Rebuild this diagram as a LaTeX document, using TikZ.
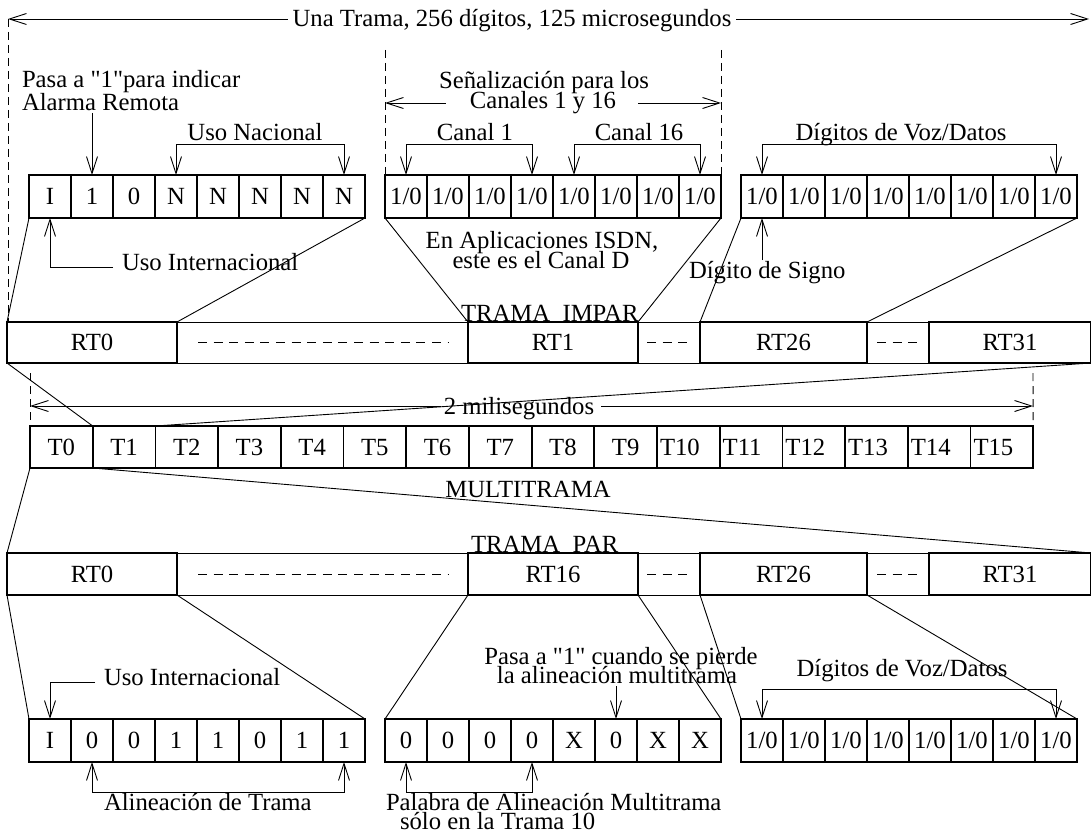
\documentclass[tikz,border=0pt]{standalone}
\usepackage{fontspec}
\setmainfont{Liberation Serif}
\newfontfamily\qfam{Liberation Serif}
\usetikzlibrary{arrows.meta,calc}
\newcommand{\straightq}{{\qfam\char34}}
\begin{document}
\begin{tikzpicture}[x=1pt,y=-1pt,
  font=\fontsize{24.7}{22}\selectfont,
  >={Straight Barb[length=17pt,width=11pt]},
  cell/.style={draw,line width=1.8pt,minimum width=42pt,minimum height=43pt,inner sep=0pt,outer sep=0pt,anchor=north west,text height=16.5pt,text depth=0pt},
  tcell/.style={draw,line width=1.8pt,minimum width=62.7pt,minimum height=42pt,inner sep=0pt,outer sep=0pt,anchor=north west,text height=16.5pt,text depth=0pt},
  rtbox/.style={draw,line width=2pt,minimum height=41pt,inner sep=0pt,outer sep=0pt,anchor=north west,text height=16.5pt,text depth=0pt},
  rowframe/.style={draw,line width=1pt,minimum height=41pt,inner sep=0pt,outer sep=0pt,anchor=north west},
  lbl/.style={inner sep=0pt,outer sep=0pt},
  conn/.style={line width=0.9pt},
  vdash/.style={line width=0.9pt,dash pattern=on 8pt off 5pt},
  gapdash/.style={line width=0.9pt,dash pattern=on 9pt off 6.6pt}]
\useasboundingbox (0,0) rectangle (1091,834);
\fill[white] (0,0) rectangle (1091,834);

% ---------- top cell groups ----------
\foreach \t [count=\i] in {I,1,0,N,N,N,N,N}
  \node[cell] (A\i) at ({29+42*(\i-1)},175) {\t};
\foreach \i in {1,...,8}
  \node[cell] (B\i) at ({385+42*(\i-1)},175) {1/0};
\foreach \i in {1,...,8}
  \node[cell] (C\i) at ({741+42*(\i-1)},175) {1/0};

% ---------- odd frame row ----------
\node[rowframe,minimum width=1084pt] (orow) at (7,322) {};
\node[rtbox,minimum width=170pt] (o0) at (7,322) {RT0};
\node[rtbox,minimum width=170pt] (o1) at (468,322) {RT1};
\node[rtbox,minimum width=167pt] (o26) at (700,322) {RT26};
\node[rtbox,minimum width=162pt] (o31) at (929,322) {RT31};
\draw[gapdash] ($(o0.east)+(21,0)$) -- ($(o1.west)+(-20,0)$);
\draw[gapdash] ($(o1.east)+(9,0)$) -- ($(o26.west)+(-13,0)$);
\draw[gapdash] ($(o26.east)+(10,0)$) -- ($(o31.west)+(-12,0)$);

% ---------- multiframe row ----------
\foreach \i in {0,...,15}{
  \ifnum\i<10
    \node[tcell] (T\i) at ({30+62.7*\i},426) {T\i};
  \else
    \node[tcell,inner xsep=3pt,text width=56.7pt,align=left] (T\i) at ({30+62.7*\i},426) {T\i};
  \fi
}

% ---------- even frame row ----------
\node[rowframe,minimum width=1084pt,minimum height=42pt] (erow) at (7,553) {};
\node[rtbox,minimum width=170pt,minimum height=42pt] (e0) at (7,553) {RT0};
\node[rtbox,minimum width=170pt,minimum height=42pt] (e16) at (468,553) {RT16};
\node[rtbox,minimum width=167pt,minimum height=42pt] (e26) at (700,553) {RT26};
\node[rtbox,minimum width=162pt,minimum height=42pt] (e31) at (929,553) {RT31};
\draw[gapdash] ($(e0.east)+(21,0)$) -- ($(e16.west)+(-20,0)$);
\draw[gapdash] ($(e16.east)+(9,0)$) -- ($(e26.west)+(-13,0)$);
\draw[gapdash] ($(e26.east)+(10,0)$) -- ($(e31.west)+(-12,0)$);

% ---------- bottom cell groups ----------
\foreach \t [count=\i] in {I,0,0,1,1,0,1,1}
  \node[cell] (D\i) at ({29+42*(\i-1)},719) {\t};
\foreach \t [count=\i] in {0,0,0,0,X,0,X,X}
  \node[cell] (E\i) at ({385+42*(\i-1)},719) {\t};
\foreach \i in {1,...,8}
  \node[cell] (F\i) at ({741+42*(\i-1)},719) {1/0};

% ---------- expansion connectors ----------
\draw[conn] (A1.south west) -- (o0.north west);
\draw[conn] (A8.south east) -- (o0.north east);
\draw[conn] (B1.south west) -- (o1.north west);
\draw[conn] (B8.south east) -- (o1.north east);
\draw[conn] (C1.south west) -- (o26.north west);
\draw[conn] (C8.south east) -- (o26.north east);
\draw[conn] (o0.south west) -- (T1.north west);
\draw[conn] (o31.south east) -- (T1.north east);
\draw[conn] (T0.south west) -- (e0.north west);
\draw[conn] (T0.south east) -- (e31.north east);
\draw[conn] (e0.south west) -- (D1.north west);
\draw[conn] (e0.south east) -- (D8.north east);
\draw[conn] (e16.south west) -- (E1.north west);
\draw[conn] (e16.south east) -- (E8.north east);
\draw[conn] (e26.south west) -- (F1.north west);
\draw[conn] (e26.south east) -- (F8.north east);

% ---------- title arrow ----------
\node[lbl,anchor=base] (title) at (512,27) {Una Trama, 256 dígitos, 125 microsegundos};
\coordinate (tL) at (8,19);
\coordinate (tR) at (1089,19);
\coordinate (tLs) at ($(title.west |- tL)+(-5,0)$);
\coordinate (tRs) at ($(title.east |- tR)+(5,0)$);
\draw[conn,->] (tLs) -- (tL);
\draw[conn,->] (tRs) -- (tR);
\draw[vdash] (tL) -- (tL |- o0.north);

% ---------- top labels ----------
\node[lbl,anchor=base west] (pasa1) at (22,88) {Pasa a \straightq1\straightq para indicar};
\node[lbl,anchor=base west] (pasa2) at (22,111) {Alarma Remota};
\coordinate (pa) at ($(A2.north |- pasa2.base)+(0,2)$);
\draw[conn,->] (pa) -- (A2.north);

\coordinate (brY) at (0,144);
\node[lbl,anchor=base] (nac) at (255,141) {Uso Nacional};
\draw[conn,<->] (A4.north) -- (A4.north |- brY) -- (A8.north |- brY) -- (A8.north);

\node[lbl,anchor=base] (sen1) at (544,89) {Señalización para los};
\node[lbl,anchor=base] (sen2) at (543,109) {Canales 1 y 16};
\coordinate (sL) at (385,103);
\coordinate (sR) at (721,103);
\coordinate (sLt) at (385,50);
\coordinate (sRt) at (721,50);
\draw[vdash] (sLt) -- (B1.north west);
\draw[vdash] (sRt) -- (B8.north east);
\coordinate (sLs) at ($(sen2.west |- sL)+(-24,0)$);
\coordinate (sRs) at ($(sen2.east |- sR)+(22,0)$);
\draw[conn,->] (sLs) -- (sL);
\draw[conn,->] (sRs) -- (sR);

\node[lbl,anchor=base] (can1) at (475,141) {Canal 1};
\draw[conn,<->] (B1.north) -- (B1.north |- brY) -- (B4.north |- brY) -- (B4.north);
\node[lbl,anchor=base] (can16) at (639,141) {Canal 16};
\draw[conn,<->] (B5.north) -- (B5.north |- brY) -- (B8.north |- brY) -- (B8.north);
\node[lbl,anchor=base] (voz1) at (901,141) {Dígitos de Voz/Datos};
\draw[conn,<->] (C1.north) -- (C1.north |- brY) -- (C8.north |- brY) -- (C8.north);

\node[lbl,anchor=base west] (ui1) at (122,270) {Uso Internacional};
\coordinate (ui1s) at ($(ui1.mid west)+(-9,0)$);
\draw[conn,->] (ui1s) -- (A1.south |- ui1s) -- (A1.south);

\node[lbl,anchor=base] (isdn1) at (542,248) {En Aplicaciones ISDN,};
\node[lbl,anchor=base] (isdn2) at (541,269) {este es el Canal D};

\node[lbl,anchor=base west] (sig) at (689,278) {Dígito de Signo};
\coordinate (sigs) at ($(C1.south |- sig.base)+(0,-18)$);
\draw[conn,->] (sigs) -- (C1.south);

\node[lbl,anchor=base west] (odd) at (461,321) {TRAMA\ \ IMPAR};

% ---------- multiframe labels ----------
\coordinate (mL) at (30,406);
\coordinate (mR) at (1033,406);
\coordinate (mLt) at (30,373);
\coordinate (mRt) at (1033,373);
\node[lbl,anchor=base] (ms) at (519,414) {2 milisegundos};
\coordinate (mLs) at ($(ms.west |- mL)+(-3,0)$);
\coordinate (mRs) at ($(ms.east |- mR)+(7,0)$);
\draw[conn,->] (mLs) -- (mL);
\draw[conn,->] (mRs) -- (mR);
\draw[vdash] (mLt) -- (T0.north west);
\draw[vdash] (mRt) -- (T15.north east);
\node[lbl,anchor=base] (mt) at (528,497) {MULTITRAMA};
\node[lbl,anchor=base west] (even) at (471,552) {TRAMA\ \ PAR};

% ---------- bottom labels ----------
\node[lbl,anchor=base west] (ui2) at (104,685) {Uso Internacional};
\coordinate (ui2s) at ($(ui2.mid west)+(-9,0)$);
\draw[conn,->] (ui2s) -- (D1.north |- ui2s) -- (D1.north);

\node[lbl,anchor=base] (pb1) at (621,664) {Pasa a \straightq1\straightq{} cuando se pierde};
\node[lbl,anchor=base] (pb2) at (617,683) {la alineación multitrama};
\coordinate (pbs) at ($(E6.north |- pb2.base)+(0,3)$);
\draw[conn,->] (pbs) -- (E6.north);

\coordinate (bY) at (0,689);
\node[lbl,anchor=base] (voz2) at (902,676) {Dígitos de Voz/Datos};
\draw[conn,<->] (F1.north) -- (F1.north |- bY) -- (F8.north |- bY) -- (F8.north);

\coordinate (aY) at (0,792);
\node[lbl,anchor=base west] (al) at (104,810) {Alineación de Trama};
\draw[conn,<->] (D2.south) -- (D2.south |- aY) -- (D8.south |- aY) -- (D8.south);
\node[lbl,anchor=base west] (pal1) at (386,810) {Palabra de Alineación Multitrama};
\node[lbl,anchor=base west] (pal2) at (400,829) {sólo en la Trama 10};
\draw[conn,<->] (E1.south) -- (E1.south |- aY) -- (E4.south |- aY) -- (E4.south);
\end{tikzpicture}
\end{document}
